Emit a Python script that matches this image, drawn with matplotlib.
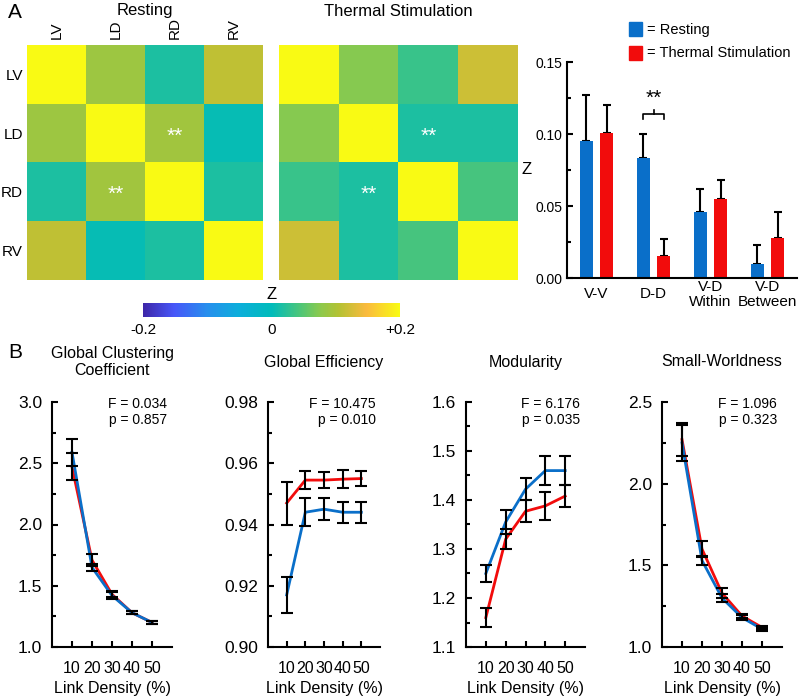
import numpy as np
import matplotlib
matplotlib.use("Agg")
import matplotlib.pyplot as plt
from matplotlib.colors import LinearSegmentedColormap
from matplotlib.patches import Patch

plt.rcParams['font.family'] = ['Liberation Sans', 'DejaVu Sans']

# ---- data ----
regions = ["LV", "LD", "RD", "RV"]
z_resting = [[0.20, 0.088, 0.016, 0.112],
             [0.088, 0.20, 0.092, 0.004],
             [0.016, 0.092, 0.20, 0.016],
             [0.112, 0.004, 0.016, 0.20]]
z_thermal = [[0.20, 0.072, 0.032, 0.12],
             [0.072, 0.20, 0.016, 0.016],
             [0.032, 0.016, 0.20, 0.04],
             [0.12, 0.016, 0.04, 0.20]]
star_cells = [(1, 2), (2, 1)]

bar_groups = ["V-V", "D-D", "V-D\nWithin", "V-D\nBetween"]
bar_rest = [0.095, 0.083, 0.046, 0.010]
bar_rest_err = [0.032, 0.017, 0.016, 0.013]
bar_therm = [0.101, 0.015, 0.055, 0.028]
bar_therm_err = [0.019, 0.012, 0.013, 0.018]

density = [10, 20, 30, 40, 50]
titles = ["Global Clustering\nCoefficient", "Global Efficiency", "Modularity", "Small-Worldness"]
stats = ["F = 0.034\np = 0.857", "F = 10.475\np = 0.010", "F = 6.176\np = 0.035", "F = 1.096\np = 0.323"]
rest_vals = [[2.59, 1.65, 1.42, 1.28, 1.20],
             [0.917, 0.944, 0.945, 0.944, 0.944],
             [1.25, 1.355, 1.422, 1.46, 1.46],
             [2.25, 1.53, 1.30, 1.18, 1.11]]
rest_err = [[0.11, 0.03, 0.025, 0.012, 0.01],
            [0.006, 0.0045, 0.0035, 0.0035, 0.0035],
            [0.018, 0.025, 0.022, 0.03, 0.03],
            [0.11, 0.03, 0.025, 0.015, 0.01]]
therm_vals = [[2.47, 1.71, 1.43, 1.28, 1.20],
              [0.947, 0.9545, 0.9545, 0.9548, 0.955],
              [1.16, 1.32, 1.377, 1.388, 1.408],
              [2.27, 1.60, 1.33, 1.19, 1.12]]
therm_err = [[0.11, 0.05, 0.025, 0.012, 0.01],
             [0.007, 0.003, 0.0025, 0.003, 0.0025],
             [0.02, 0.02, 0.022, 0.028, 0.023],
             [0.10, 0.05, 0.03, 0.015, 0.01]]
ylims = [(1.0, 3.0), (0.90, 0.98), (1.1, 1.6), (1.0, 2.5)]
yticks = [[1.0, 1.5, 2.0, 2.5, 3.0], [0.90, 0.92, 0.94, 0.96, 0.98],
          [1.1, 1.2, 1.3, 1.4, 1.5, 1.6], [1.0, 1.5, 2.0, 2.5]]
ytick_fmt = ["%.1f", "%.2f", "%.1f", "%.1f"]

BLUE = "#0a6fc9"
RED = "#f20c0c"

parula = LinearSegmentedColormap.from_list("parula", [
    (0.00, (0.242, 0.150, 0.660)),
    (0.12, (0.280, 0.340, 0.975)),
    (0.25, (0.150, 0.560, 0.930)),
    (0.37, (0.050, 0.680, 0.860)),
    (0.50, (0.000, 0.735, 0.730)),
    (0.62, (0.330, 0.780, 0.450)),
    (0.69, (0.550, 0.790, 0.300)),
    (0.76, (0.700, 0.760, 0.200)),
    (0.87, (0.980, 0.730, 0.240)),
    (1.00, (0.977, 0.984, 0.081))])

W, H = 800, 698
fig = plt.figure(figsize=(8, 6.98), dpi=100)


def px_axes(x0, y0, x1, y1):
    return fig.add_axes([x0 / W, 1 - y1 / H, (x1 - x0) / W, (y1 - y0) / H])


# ---- heatmaps ----
for k, (mat, ttl, box) in enumerate([(z_resting, "Resting", (27, 45, 263, 280)),
                                     (z_thermal, "Thermal Stimulation", (279, 45, 518, 280))]):
    ax = px_axes(*box)
    im = ax.imshow(np.array(mat), cmap=parula, vmin=-0.2, vmax=0.2, aspect='auto')
    for (r, c) in star_cells:
        ax.text(c, r + 0.05, "**", color="white", ha="center", va="center", fontsize=15)
    for s in ax.spines.values():
        s.set_visible(False)
    ax.tick_params(length=0)
    if k == 0:
        ax.xaxis.tick_top()
        ax.set_xticks(range(4))
        ax.set_xticklabels(regions, rotation=90, fontsize=11)
        ax.set_yticks(range(4))
        ax.set_yticklabels(regions, fontsize=11)
        ax.tick_params(axis="y", pad=3)
        ax.tick_params(axis="x", pad=4)
    else:
        ax.set_xticks([])
        ax.set_yticks([])
    fig.text(((box[0] + box[2]) / 2) / W, 1 - 11 / H, ttl, ha="center", va="center", fontsize=12)

cax = px_axes(143, 303, 400, 317)
cb = fig.colorbar(im, cax=cax, orientation="horizontal", ticks=[-0.2, 0, 0.2])
cb.set_ticklabels(["-0.2", "0", "+0.2"])
cb.outline.set_visible(False)
cax.tick_params(length=0, labelsize=11, pad=4)
fig.text(272 / W, 1 - 294 / H, "Z", ha="center", va="center", fontsize=12)

fig.text(8 / W, 1 - 12 / H, "A", ha="left", va="center", fontsize=15)
fig.text(8 / W, 1 - 352 / H, "B", ha="left", va="center", fontsize=15)

# ---- bar chart ----
bx = px_axes(567, 62, 797, 278)
xpos = np.arange(len(bar_groups))
bw = 0.23
off = 0.18
bx.bar(xpos - off, bar_rest, bw, color=BLUE, zorder=2)
bx.bar(xpos + off, bar_therm, bw, color=RED, zorder=2)
bx.errorbar(xpos - off, bar_rest, yerr=[np.zeros(4), bar_rest_err], fmt="none",
            ecolor="black", elinewidth=1.5, capsize=3, capthick=1.5, zorder=1)
bx.errorbar(xpos + off, bar_therm, yerr=[np.zeros(4), bar_therm_err], fmt="none",
            ecolor="black", elinewidth=1.5, capsize=3, capthick=1.5, zorder=1)
bx.set_xlim(-0.52, 3.52)
bx.set_ylim(0, 0.15)
bx.set_yticks([0, 0.05, 0.10, 0.15])
bx.set_yticklabels(["0.00", "0.05", "0.10", "0.15"])
bx.set_yticks([0.025, 0.075, 0.125], minor=True)
bx.set_xticks([])
for xp, lab in zip(xpos, bar_groups):
    bx.text(xp, -0.075, lab, transform=bx.get_xaxis_transform(), ha="center", va="center",
            fontsize=11, linespacing=1.1)
bx.tick_params(axis="y", which="both", direction="in", labelsize=10, width=1.5)
bx.tick_params(axis="y", which="major", length=4)
bx.tick_params(axis="y", which="minor", length=3)
bx.spines[["top", "right"]].set_visible(False)
bx.spines[["left", "bottom"]].set_linewidth(1.5)
bx.set_ylabel("Z", rotation=0, fontsize=12, labelpad=6, va="center")
# significance bracket over D-D
x1, x2 = xpos[1] - off, xpos[1] + off
bx.plot([x1, x1, x2, x2], [0.1105, 0.114, 0.114, 0.1105], color="black", lw=1.2, clip_on=False)
bx.plot([1, 1], [0.114, 0.117], color="black", lw=1.2)
bx.text(1, 0.118, "**", ha="center", va="bottom", fontsize=15)
bx.legend(handles=[Patch(color=BLUE, label="= Resting"),
                   Patch(color=RED, label="= Thermal Stimulation")],
          loc="lower left", bbox_to_anchor=(0.245, 0.98), frameon=False, fontsize=10.5,
          handlelength=0.9, handleheight=1.1, handletextpad=0.3, labelspacing=0.6,
          borderaxespad=0)

# ---- line plots ----
boxes = [(52, 402, 172, 647), (268, 402, 380, 647), (466, 402, 585, 647), (662, 402, 782, 647)]
for i in range(4):
    ax = px_axes(*boxes[i])
    ax.plot(density, therm_vals[i], color=RED, lw=2, zorder=2)
    ax.plot(density, rest_vals[i], color=BLUE, lw=2, zorder=3)
    ax.errorbar(density, therm_vals[i], yerr=therm_err[i], fmt="none", ecolor="black",
                elinewidth=1.5, capsize=4, capthick=1.5, zorder=4)
    ax.errorbar(density, rest_vals[i], yerr=rest_err[i], fmt="none", ecolor="black",
                elinewidth=1.5, capsize=4, capthick=1.5, zorder=4)
    ax.set_xlim(0, 60)
    ax.set_ylim(*ylims[i])
    ax.set_xticks(density)
    ax.set_xticklabels([str(d) for d in density])
    ax.set_yticks(yticks[i])
    ax.set_yticklabels([ytick_fmt[i] % v for v in yticks[i]])
    yt = yticks[i]
    ax.set_yticks([(a + b) / 2 for a, b in zip(yt[:-1], yt[1:])], minor=True)
    ax.tick_params(which="both", direction="in", width=1.5)
    ax.tick_params(axis="y", which="major", length=4, labelsize=12.5, pad=7)
    ax.tick_params(axis="y", which="minor", length=3)
    ax.tick_params(axis="x", length=4, labelsize=11.5, pad=10)
    ax.spines[["top", "right"]].set_visible(False)
    ax.spines[["left", "bottom"]].set_linewidth(1.5)
    ax.set_xlabel("Link Density (%)", fontsize=11.5, labelpad=4)
    cx = (boxes[i][0] + boxes[i][2]) / 2
    fig.text(cx / W, 1 - 362 / H, titles[i], ha="center", va="center",
             fontsize=11.5, linespacing=1.2)
    ax.text(0.96, 1.02, stats[i], transform=ax.transAxes, ha="right", va="top",
            fontsize=10, linespacing=1.15)

fig.savefig("out.png", dpi=100)
